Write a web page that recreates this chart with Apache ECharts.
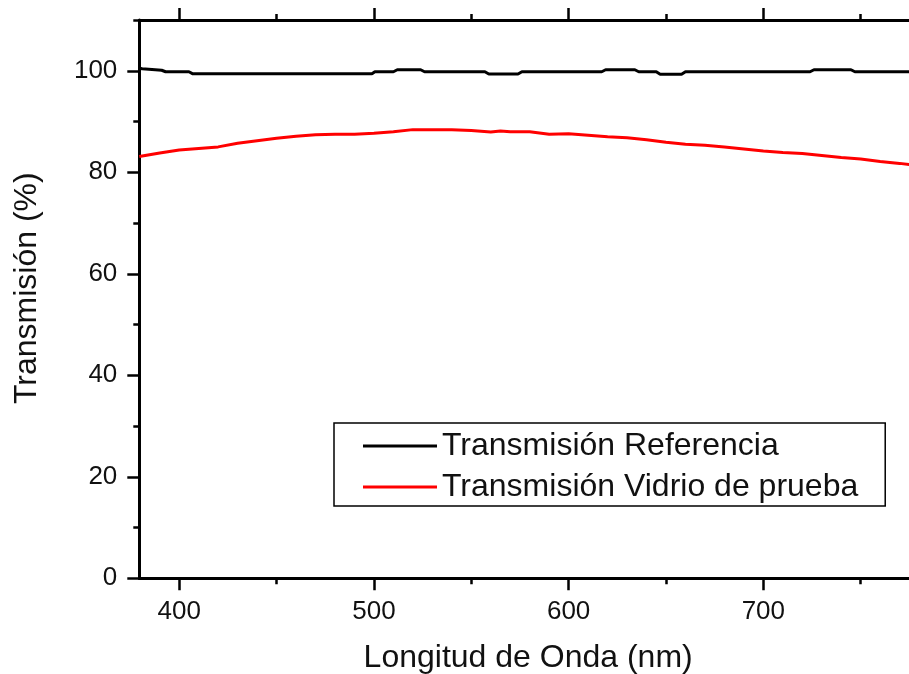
<!DOCTYPE html>
<html style="height: 100%">
<head>
    <meta charset="utf-8">
    <script src="https://cdn.jsdelivr.net/npm/echarts@6/dist/echarts.min.js"></script>
</head>
<body style="height: 100%; margin: 0; background: #fff;">
<div id="container" style="width: 909px; height: 674px;"></div>
<script type="text/javascript">
    // datos
    var seriesNames = ['Transmisión Referencia', 'Transmisión Vidrio de prueba'];

    var refWavelength = [379.5, 381, 382, 391, 393, 405, 407, 499, 500.5, 510, 512, 524, 526, 557, 559, 574, 576,
        617, 619, 634, 636, 645, 647, 658, 660, 724, 726, 745, 747, 775];
    var refValues = [100.5, 100.4, 100.1, 100.1, 99.8, 99.8, 99.4, 99.4, 99.8, 99.8, 100.2, 100.2, 99.8, 99.8, 99.35, 99.35, 99.8,
        99.8, 100.2, 100.2, 99.8, 99.8, 99.3, 99.3, 99.8, 99.8, 100.2, 100.2, 99.8, 99.8];

    var vidrioWavelength = [379.5, 390, 400, 410, 420, 430, 440, 450, 460, 470, 480, 490, 500, 510, 520, 530, 540, 550, 560,
        565, 570, 580, 590, 600, 610, 620, 630, 640, 650, 660, 670, 680, 690, 700, 710, 720, 730, 740, 750, 760, 770, 775];
    var vidrioValues = [83.1, 83.8, 84.4, 84.7, 85.0, 85.7, 86.2, 86.7, 87.1, 87.4, 87.5, 87.5, 87.7, 88.0, 88.4, 88.4, 88.4, 88.25, 87.95,
        88.15, 88.0, 88.0, 87.5, 87.6, 87.3, 87.0, 86.8, 86.4, 85.9, 85.5, 85.3, 85.0, 84.6, 84.2, 83.9, 83.7, 83.3, 82.9, 82.6, 82.1, 81.75, 81.5];

    var xMajorTicks = [400, 500, 600, 700];
    var xMinorTicks = [450, 550, 650, 750];
    var yMajorTicks = [0, 20, 40, 60, 80, 100];
    var yMinorTicks = [10, 30, 50, 70, 90, 110];

    var xMin = 379.5, xMax = 774.8, yMin = 0, yMax = 110;

    function zip(xs, ys) {
        var out = [];
        for (var i = 0; i < xs.length; i++) out.push([xs[i], ys[i]]);
        return out;
    }

    var fontFam = 'Liberation Sans, Arial, sans-serif';
    var black = '#000';

    // eje x: principal con etiquetas, secundarios para ticks menores y borde superior
    function xAxisDef(pos, ticks, len, labels, line) {
        return {
            type: 'value', position: pos, min: xMin, max: xMax,
            splitLine: {show: false},
            axisLine: {show: line, onZero: false, lineStyle: {color: black, width: 3}},
            axisTick: {show: true, inside: false, length: len, customValues: ticks,
                lineStyle: {color: black, width: 2.5}},
            axisLabel: {show: labels, customValues: ticks, margin: 21,
                color: '#111', fontSize: 26, fontFamily: fontFam}
        };
    }
    function yAxisDef(ticks, len, labels, line) {
        return {
            type: 'value', position: 'left', min: yMin, max: yMax,
            splitLine: {show: false},
            axisLine: {show: line, onZero: false, lineStyle: {color: black, width: 3}},
            axisTick: {show: true, inside: false, length: len, customValues: ticks,
                lineStyle: {color: black, width: 2.5}},
            axisLabel: {show: labels, customValues: ticks, margin: 22,
                color: '#111', fontSize: 26, fontFamily: fontFam}
        };
    }

    var xBottom = xAxisDef('bottom', xMajorTicks, 12, true, true);
    xBottom.name = 'Longitud de Onda (nm)';
    xBottom.nameLocation = 'middle';
    xBottom.nameGap = 64;
    xBottom.nameTextStyle = {color: '#111', fontSize: 32, fontFamily: fontFam, padding: [0, 0, 0, 8]};

    var yLeft = yAxisDef(yMajorTicks, 12, true, true);
    yLeft.name = 'Transmisión (%)';
    yLeft.nameLocation = 'middle';
    yLeft.nameGap = 96;
    yLeft.nameTextStyle = {color: '#111', fontSize: 32, fontFamily: fontFam, padding: [0, 0, 0, 22]};

    var chart = echarts.init(document.getElementById('container'));
    var option = {
        backgroundColor: '#fff',
        animation: false,
        grid: {left: 139.3, right: 0, top: 20, bottom: 95.7, containLabel: false, outerBoundsMode: 'none'},
        legend: {
            orient: 'vertical',
            left: 334, top: 423,
            data: seriesNames,
            icon: 'rect',
            backgroundColor: '#fff',
            borderColor: black, borderWidth: 1.5, borderRadius: 0,
            padding: [7, 27, 3, 29],
            itemWidth: 74, itemHeight: 3, itemGap: 9,
            textStyle: {color: '#111', fontSize: 32, fontFamily: fontFam}
        },
        xAxis: [
            xBottom,
            xAxisDef('bottom', xMinorTicks, 6, false, false),
            xAxisDef('top', xMajorTicks, 12, false, true),
            xAxisDef('top', xMinorTicks, 6, false, false)
        ],
        yAxis: [
            yLeft,
            yAxisDef(yMinorTicks, 6, false, false)
        ],
        series: [
            {
                name: seriesNames[0], type: 'line', xAxisIndex: 0, yAxisIndex: 0,
                symbol: 'none', showSymbol: false,
                lineStyle: {color: '#000', width: 3}, itemStyle: {color: '#000'},
                data: zip(refWavelength, refValues)
            },
            {
                name: seriesNames[1], type: 'line', xAxisIndex: 0, yAxisIndex: 0,
                symbol: 'none', showSymbol: false,
                lineStyle: {color: '#ff0000', width: 3}, itemStyle: {color: '#ff0000'},
                data: zip(vidrioWavelength, vidrioValues)
            }
        ]
    };
    chart.setOption(option);
</script>
</body>
</html>
